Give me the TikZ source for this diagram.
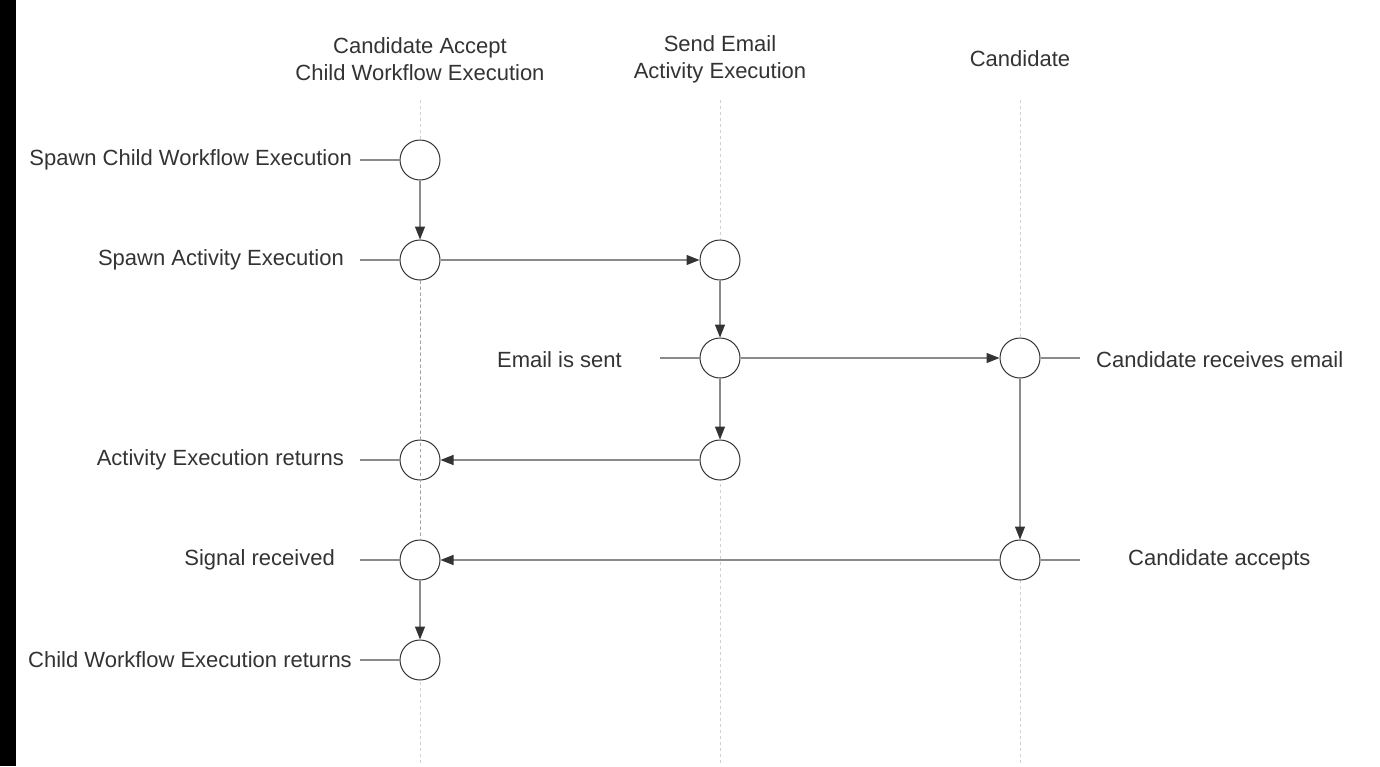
\documentclass[tikz,border=0pt]{standalone}
\usepackage{fontspec}
\setmainfont{Liberation Sans}
\usetikzlibrary{arrows.meta}
\definecolor{linegray}{HTML}{8A8A8A}
\definecolor{lanegray}{HTML}{D0D0D0}
\definecolor{inkgray}{HTML}{333333}

\begin{document}
\begin{tikzpicture}[x=1pt,y=-1pt,
  event/.style={circle,draw=inkgray,fill=white,minimum size=40pt,inner sep=0pt,line width=1pt},
  msg/.style={draw=linegray,line width=1.2pt,-{Triangle[length=13pt,width=10pt,color=inkgray]}},
  tick/.style={draw=linegray,line width=1.2pt},
  lane/.style={draw=lanegray,line width=1pt,dash pattern=on 3pt off 3pt},
  txt/.style={text=inkgray,font=\fontsize{22}{27}\selectfont,inner sep=0pt,align=center}]
  \useasboundingbox (0,0) rectangle (1380,766);
  \fill[black] (0,0) rectangle (16,766);

  % lane headers
  \node[txt] (h1) at (420,59) {Candidate Accept\\Child Workflow Execution};
  \node[txt] (h2) at (720,59) {Send Email\\Activity Execution};
  \node[txt] (h3) at (1020,59) {Candidate};

  % lifelines
  \coordinate (t1) at (420,100); \coordinate (b1) at (420,766);
  \coordinate (t2) at (720,100); \coordinate (b2) at (720,766);
  \coordinate (t3) at (1020,100); \coordinate (b3) at (1020,766);
  \draw[lane] (t1) -- (b1);
  \draw[lane] (t2) -- (b2);
  \draw[lane] (t3) -- (b3);

  % events
  \node (c1) at (420,160) [event] {};
  \node (c2) at (420,260) [event] {};
  \node (c3) at (420,460) [event] {};
  \node (c4) at (420,560) [event] {};
  \node (c5) at (420,660) [event] {};
  \node (s1) at (720,260) [event] {};
  \node (s2) at (720,358) [event] {};
  \node (s3) at (720,460) [event] {};
  \node (k1) at (1020,358) [event] {};
  \node (k2) at (1020,560) [event] {};

  \draw[lane,draw=linegray!80] (c2) -- (c4);

  % ticks
  \coordinate (c1t) at (360,160); \draw[tick] (c1t) -- (c1);
  \coordinate (c2t) at (360,260); \draw[tick] (c2t) -- (c2);
  \coordinate (c3t) at (360,460); \draw[tick] (c3t) -- (c3);
  \coordinate (c4t) at (360,560); \draw[tick] (c4t) -- (c4);
  \coordinate (c5t) at (360,660); \draw[tick] (c5t) -- (c5);
  \coordinate (s2t) at (660,358); \draw[tick] (s2t) -- (s2);
  \coordinate (k1t) at (1080,358); \draw[tick] (k1) -- (k1t);
  \coordinate (k2t) at (1080,560); \draw[tick] (k2) -- (k2t);

  % labels
  \node[txt,anchor=east] (c1l) at (352,160) {Spawn Child Workflow Execution};
  \node[txt,anchor=east] (c2l) at (344,260) {Spawn Activity Execution};
  \node[txt,anchor=east] (s2l) at (622,360) {Email is sent};
  \node[txt,anchor=east] (c3l) at (344,460) {Activity Execution returns};
  \node[txt,anchor=east] (c4l) at (335,560) {Signal received};
  \node[txt,anchor=east] (c5l) at (352,660) {Child Workflow Execution returns};
  \node[txt,anchor=west] (k1l) at (1096,360) {Candidate receives email};
  \node[txt,anchor=west] (k2l) at (1128,560) {Candidate accepts};

  % messages
  \draw[msg] (c1) -- (c2);
  \draw[msg] (c2) -- (s1);
  \draw[msg] (s1) -- (s2);
  \draw[msg] (s2) -- (k1);
  \draw[msg] (s2) -- (s3);
  \draw[msg] (s3) -- (c3);
  \draw[msg] (k1) -- (k2);
  \draw[msg] (k2) -- (c4);
  \draw[msg] (c4) -- (c5);
\end{tikzpicture}
\end{document}
